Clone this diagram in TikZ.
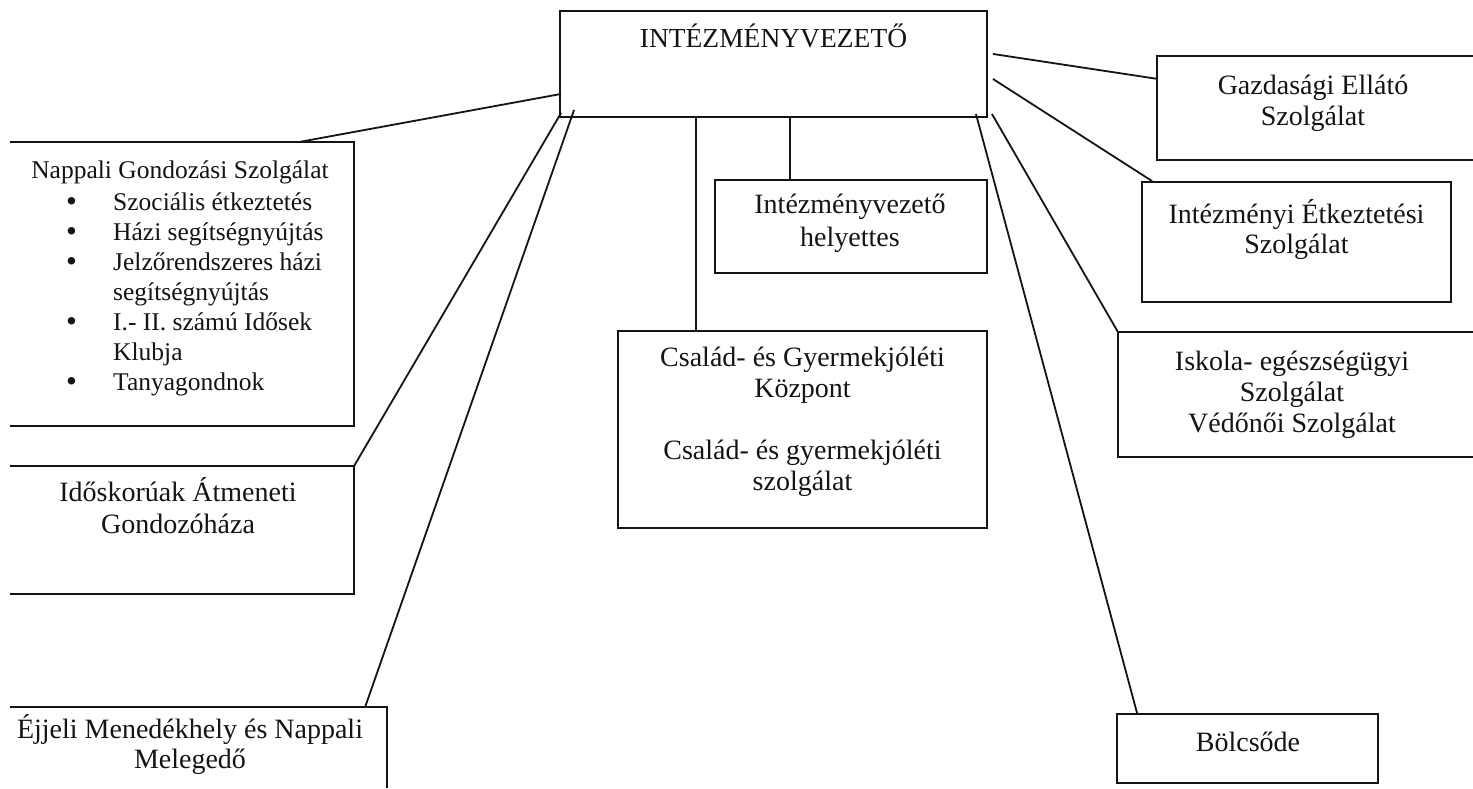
\documentclass[tikz,border=0pt]{standalone}
\usepackage{fontspec}
\setmainfont{Liberation Serif}
\usetikzlibrary{calc}
\definecolor{ink}{HTML}{141414}
\newcommand{\myhd}{\rule{0pt}{28pt}}
\newcommand{\bl}{\makebox[47pt][l]{\raisebox{-1pt}{\fontsize{31}{30}\selectfont •}}}
\begin{document}
\begin{tikzpicture}[x=1pt,y=-1pt,
  boxwh/.style 2 args={rectangle,inner sep=0pt,minimum width=#1,minimum height=#2},
  framed/.style={draw=ink,line width=1.9pt},
  edge/.style={draw=ink,line width=1.9pt},
  conn/.style={draw=ink,line width=1.8pt},
  txt/.style={inner sep=0pt,anchor=north,align=center,text=ink,font=\fontsize{28}{31}\selectfont},
]
\fill[white] (0,0) rectangle (1473,788);
\useasboundingbox (0,0) rectangle (1473,788);

% boxes
\node[boxwh={427pt}{106pt},framed] (top) at (773.5,64) {};
\node[boxwh={344pt}{284pt}] (nap) at (182,284) {};
\node[boxwh={344pt}{128pt}] (ido) at (182,530) {};
\node[boxwh={377pt}{81pt}] (ejj) at (198.5,747.5) {};
\node[boxwh={272pt}{93pt},framed] (hel) at (851,226.5) {};
\node[boxwh={369pt}{197pt},framed] (csal) at (802.5,429.5) {};
\node[boxwh={316pt}{104pt}] (gaz) at (1315,108) {};
\node[boxwh={309pt}{120pt},framed] (int) at (1296.5,242) {};
\node[boxwh={355pt}{125pt}] (isk) at (1295.5,394.5) {};
\node[boxwh={261pt}{69pt},framed] (bol) at (1247.5,748.5) {};

% visible sides of the cut-off boxes
\draw[edge] (nap.north west) -- (nap.north east) -- (nap.south east) -- (nap.south west);
\draw[edge] (ido.north west) -- (ido.north east) -- (ido.south east) -- (ido.south west);
\draw[edge] (ejj.north west) -- (ejj.north east) -- (ejj.south east);
\draw[edge] (gaz.north east) -- (gaz.north west) -- (gaz.south west) -- (gaz.south east);
\draw[edge] (isk.north east) -- (isk.north west) -- (isk.south west) -- (isk.south east);

% texts
\node[txt,font=\fontsize{27.5}{31}\selectfont] (topt) at (773.5,19) {\myhd INTÉZMÉNYVEZETŐ};
\node[txt,font=\fontsize{25.5}{31}\selectfont] (napt) at (180,150) {\myhd Nappali Gondozási Szolgálat};
\node[txt,anchor=north west,align=left,font=\fontsize{25.5}{30}\selectfont] (napl) at (66,182)
  {\myhd\bl Szociális étkeztetés\\
   \bl Házi segítségnyújtás\\
   \bl Jelzőrendszeres házi\\
   \hspace*{47pt}segítségnyújtás\\
   \bl I.- II. számú Idősek\\
   \hspace*{47pt}Klubja\\
   \bl Tanyagondnok};
\node[txt,font=\fontsize{28}{32}\selectfont] (idot) at (178,473) {\myhd Időskorúak Átmeneti\\Gondozóháza};
\node[txt,font=\fontsize{28}{30}\selectfont] (ejjt) at (190,710) {\myhd Éjjeli Menedékhely és Nappali\\Melegedő};
\node[txt,font=\fontsize{28}{33}\selectfont] (helt) at (850,185) {\myhd Intézményvezető\\helyettes};
\node[txt] (csalt) at (802.5,338) {\myhd Család- és Gyermekjóléti\\Központ\\[31pt]Család- és gyermekjóléti\\szolgálat};
\node[txt] (gazt) at (1313,66) {\myhd Gazdasági Ellátó\\Szolgálat};
\node[txt,font=\fontsize{28}{30}\selectfont] (intt) at (1296.5,195) {\myhd Intézményi Étkeztetési\\Szolgálat};
\node[txt] (iskt) at (1292,342) {\myhd Iskola- egészségügyi\\Szolgálat\\Védőnői Szolgálat};
\node[txt] (bolt) at (1248,723) {\myhd Bölcsőde};

% connectors
\draw[conn] ([xshift=2pt,yshift=24pt]top.south west) -- ([xshift=-54pt]nap.north east);
\draw[conn] ([xshift=2pt,yshift=5pt]top.south west) -- (ido.north east);
\draw[conn] ([xshift=15pt,yshift=8pt]top.south west) -- ([xshift=-22pt]ejj.north east);
\draw[conn] ([xshift=137pt]top.south west) -- ([xshift=79pt]csal.north west);
\draw[conn] ([xshift=231pt]top.south west) -- ([xshift=76pt]hel.north west);
\draw[conn] ([xshift=5pt,yshift=64pt]top.south east) -- ([yshift=-23pt]gaz.north west);
\draw[conn] ([xshift=5pt,yshift=39pt]top.south east) -- ([xshift=11pt]int.north west);
\draw[conn] ([xshift=4pt,yshift=4pt]top.south east) -- (isk.north west);
\draw[conn] ([xshift=-12pt,yshift=4pt]top.south east) -- ([xshift=21pt]bol.north west);
\end{tikzpicture}
\end{document}
